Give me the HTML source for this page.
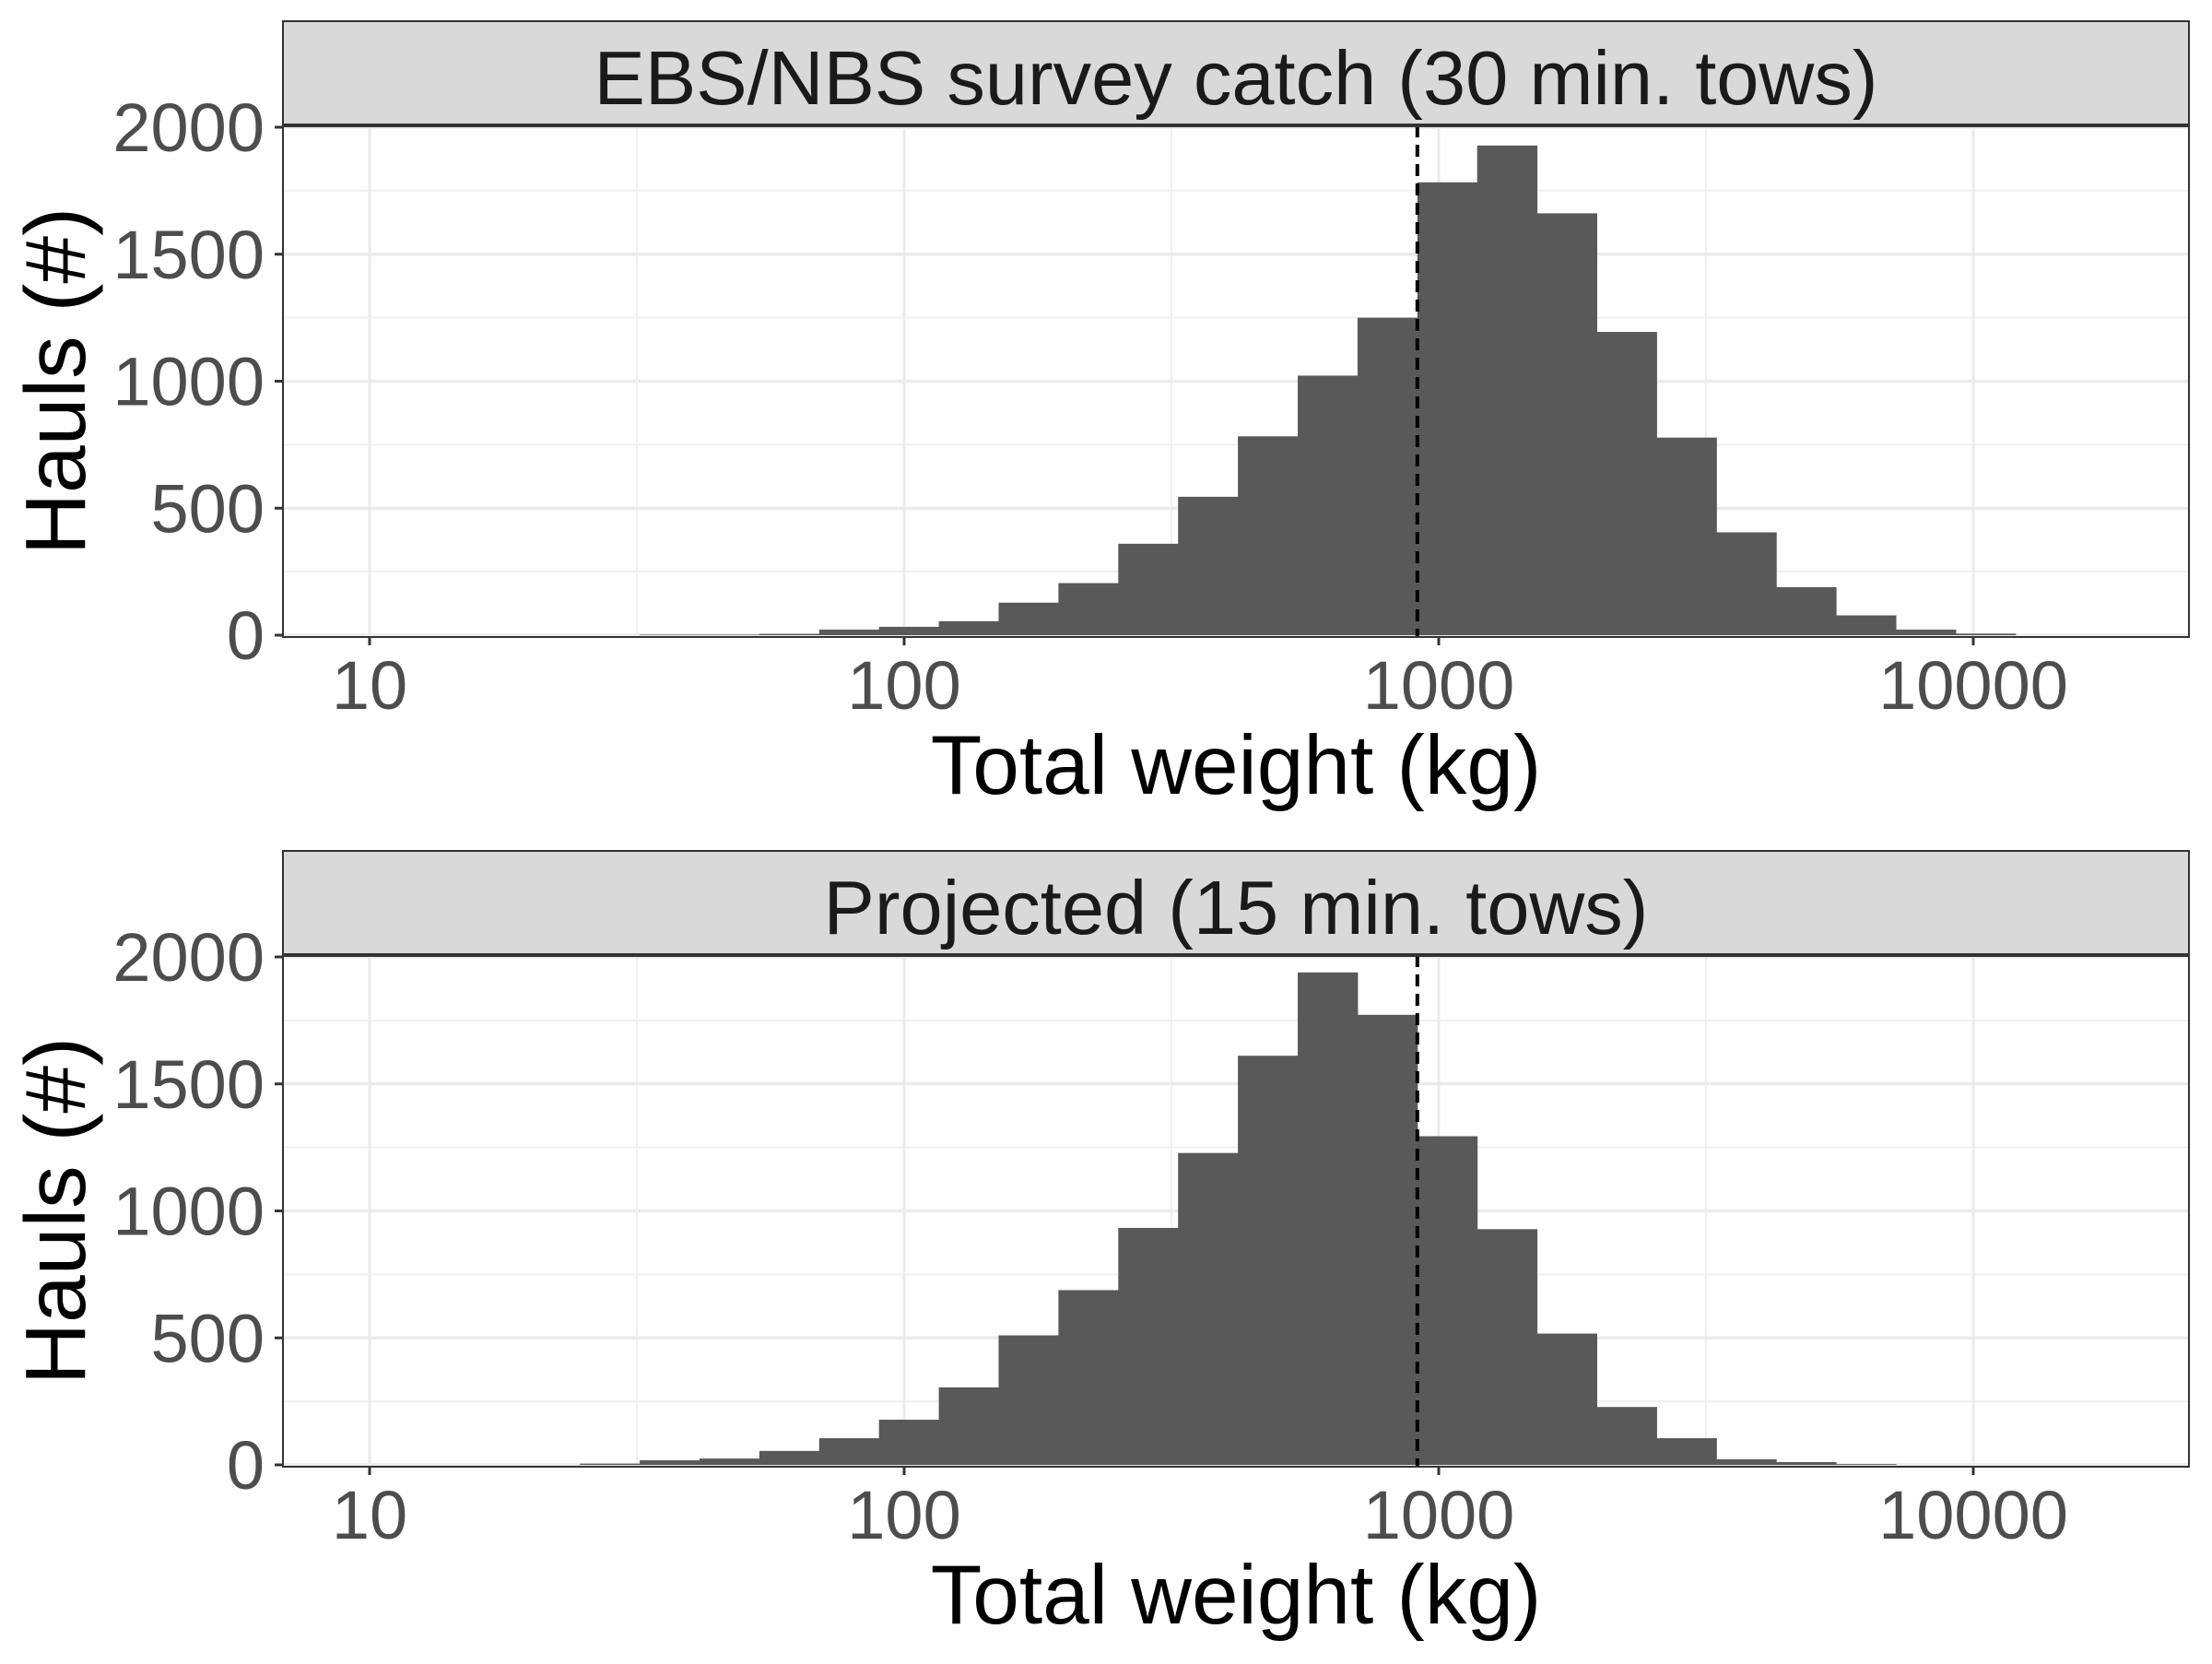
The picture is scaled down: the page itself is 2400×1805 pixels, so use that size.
<!DOCTYPE html>
<html><head><meta charset="utf-8"><style>
html,body{margin:0;padding:0;background:#fff;}
svg text{font-family:"Liberation Sans",sans-serif;}
</style></head><body>
<svg id="chart" width="2400" height="1800" viewBox="0 0 2400 1800" xmlns="http://www.w3.org/2000/svg"></svg>
<script>
const xTicks = [10, 100, 1000, 10000];
const xTickLabels = ["10", "100", "1000", "10000"];
const yTicks = [0, 500, 1000, 1500, 2000];
const yTickLabels = ["0", "500", "1000", "1500", "2000"];
const binLogWidth = 0.1119;
const binLogStart = 2.960;
const topBinIdx = [-13,-12,-11,-10,-9,-8,-7,-6,-5,-4,-3,-2,-1,0,1,2,3,4,5,6,7,8,9];
const topCounts = [2,2,5,22,33,55,128,205,360,545,783,1022,1250,1783,1928,1661,1194,778,405,189,78,22,6];
const botBinIdx = [-14,-13,-12,-11,-10,-9,-8,-7,-6,-5,-4,-3,-2,-1,0,1,2,3,4,5,6,7];
const botCounts = [5,18,25,55,105,178,305,510,688,933,1228,1611,1939,1772,1294,928,517,228,105,22,11,3];
const refLineKg = 912;
const panelTitles = ["EBS/NBS survey catch (30 min. tows)", "Projected (15 min. tows)"];

const NS = "http://www.w3.org/2000/svg";
const svg = document.getElementById("chart");
const L = 307, R = 2375;
const xScale = v => 401 + (Math.log10(v) - 1) * 580;
const xLog = lg => 401 + (lg - 1) * 580;
function mk(tag, attrs, parent) {
  const e = document.createElementNS(NS, tag);
  for (const k in attrs) e.setAttribute(k, attrs[k]);
  (parent || svg).appendChild(e);
  return e;
}
function panel(stripTop, y0, y2000, idx, counts, title, pname) {
  const g = mk("g", {});
  
  
  const stripBot = stripTop + 113;
  const yS = v => y0 - (v / 2000) * (y0 - y2000);
  const bottom = y0 + 2;
  for (let lg = 0.5; lg < 5; lg += 1) {
    const x = xLog(lg);
    if (x > L && x < R) { const l = mk("line", {x1:x,x2:x,y1:stripBot,y2:bottom,stroke:"#f0f0f0","stroke-width":2}, g);
        }
  }
  for (let v = 250; v < 2100; v += 500) {
    const l = mk("line", {x1:L,x2:R,y1:yS(v),y2:yS(v),stroke:"#f0f0f0","stroke-width":2}, g);
     
  }
  xTicks.forEach(t => { const l = mk("line", {x1:xScale(t),x2:xScale(t),y1:stripBot,y2:bottom,stroke:"#ebebeb","stroke-width":3}, g);
      });
  yTicks.forEach(t => { const l = mk("line", {x1:L,x2:R,y1:yS(t),y2:yS(t),stroke:"#ebebeb","stroke-width":3.5}, g);
      });
  idx.forEach((k, i) => {
    const a = xLog(binLogStart + k * binLogWidth), b = xLog(binLogStart + (k + 1) * binLogWidth);
    const r = mk("rect", {x:a, y:yS(counts[i]), width:b - a + 0.5, height:y0 - yS(counts[i]), fill:"#595959"}, g);
    
    
  });
  const d = mk("line", {x1:xScale(refLineKg),x2:xScale(refLineKg),y1:stripBot,y2:bottom,stroke:"#000","stroke-width":4,"stroke-dasharray":"13,8"}, g);
   
  const s = mk("rect", {x:L, y:stripTop, width:R-L, height:stripBot-stripTop, fill:"#d9d9d9", stroke:"#333", "stroke-width":2}, g);
   
  const st = mk("text", {x:(L+R)/2, y:stripTop+90, "text-anchor":"middle", "font-size":83, fill:"#1a1a1a"}, g);
  st.textContent = title;
   
  const border = mk("rect", {x:L, y:stripBot, width:R-L, height:bottom-stripBot, fill:"none", stroke:"#333", "stroke-width":2}, g);
   
  const sl = mk("line", {x1:L, x2:R, y1:stripBot, y2:stripBot, stroke:"#333", "stroke-width":4}, g);
   
  xTicks.forEach((t, i) => {
    const x = xScale(t);
    const l = mk("line", {x1:x,x2:x,y1:bottom,y2:bottom+9,stroke:"#333","stroke-width":3}, g);
     
    const tx = mk("text", {x:x, y:bottom+78, "text-anchor":"middle", "font-size":74, fill:"#4d4d4d"}, g);
    tx.textContent = xTickLabels[i];
     
  });
  yTicks.forEach((t, i) => {
    const y = yS(t);
    const l = mk("line", {x1:L-9,x2:L,y1:y,y2:y,stroke:"#333","stroke-width":3}, g);
     
    const tx = mk("text", {x:L-20, y:y+26, "text-anchor":"end", "font-size":74, fill:"#4d4d4d"}, g);
    tx.textContent = yTickLabels[i];
     
  });
  const xt = mk("text", {x:(L+R)/2, y:bottom+170, "text-anchor":"middle", "font-size":91, fill:"#000"}, g);
  xt.textContent = "Total weight (kg)";
   
  const cy = (stripBot + bottom) / 2;
  const yt = mk("text", {x:0, y:0, transform:`translate(92,${cy}) rotate(-90)`, "text-anchor":"middle", "font-size":93, fill:"#000"}, g);
  yt.textContent = "Hauls (#)";
   
}
panel(23, 689, 138, topBinIdx, topCounts, panelTitles[0], "survey-catch-panel");
panel(923, 1589, 1038, botBinIdx, botCounts, panelTitles[1], "projected-panel");
</script>
</body></html>
